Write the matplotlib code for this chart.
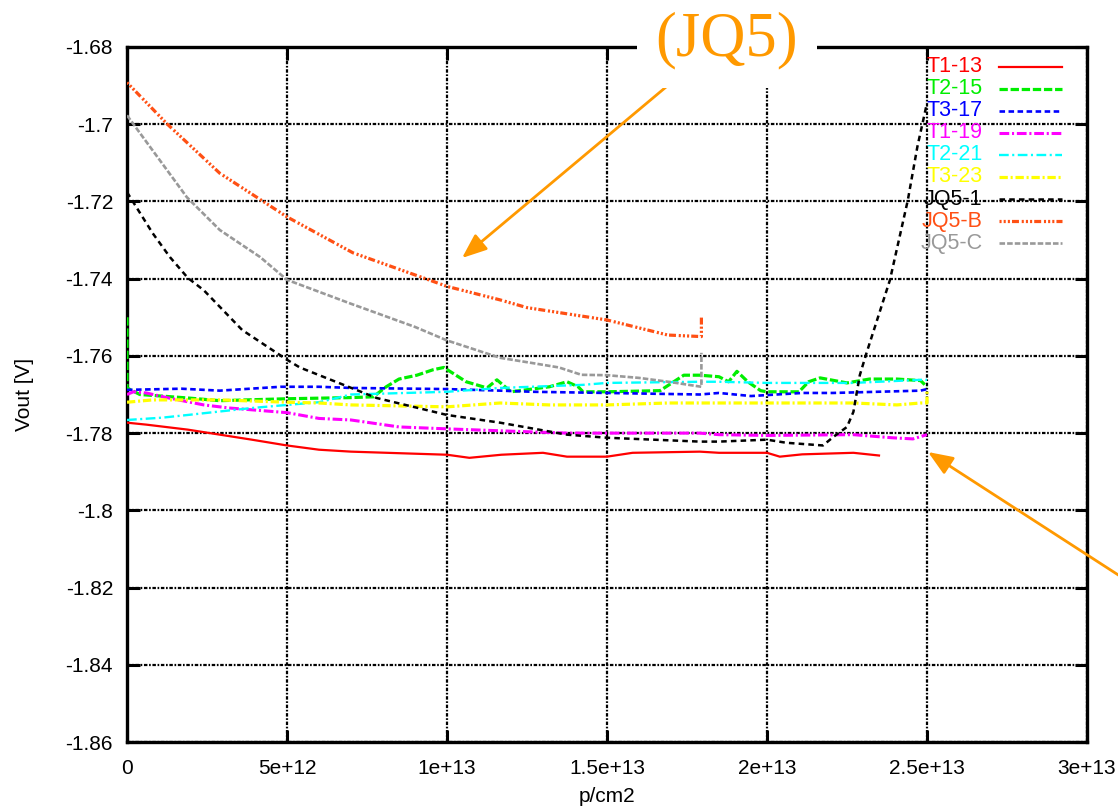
import matplotlib
matplotlib.use("Agg")
import matplotlib.pyplot as plt

plt.rcParams["font.family"] = ["Liberation Sans", "DejaVu Sans"]
plt.rcParams["lines.scale_dashes"] = False

# x in units of 1e12 p/cm2, y in V
t1_13_x = [0, 0.6, 1.9, 3.9, 5.0, 6.0, 7.0, 8.5, 10.0, 10.7, 11.7, 13.0, 13.75, 15.0, 15.8, 17.9, 18.5,
           20.0, 20.4, 21.1, 22.7, 23.5]
t1_13_y = [-1.7773, -1.7778, -1.7791, -1.7817, -1.7832, -1.7843, -1.7848, -1.7852, -1.7856, -1.7864,
           -1.7856, -1.7851, -1.7861, -1.7861, -1.7851, -1.7848, -1.7851, -1.7851, -1.7861, -1.7855,
           -1.7851, -1.7858]

t2_15_x = [0, 0, 0.4, 1.9, 2.9, 5.0, 7.0, 7.7, 8.1, 8.5, 9.06, 9.56, 9.9, 10.6, 11.25, 11.56, 12.0, 13.2,
           13.75, 14.1, 14.25, 15.0, 16.66, 17.4, 17.9, 18.5, 18.8, 19.06, 19.4, 19.8, 20.0, 21.0, 21.3,
           21.66, 22.5, 23.2, 24.06, 24.8, 25.0]
t2_15_y = [-1.7500, -1.7683, -1.7700, -1.7709, -1.7716, -1.7711, -1.7708, -1.7706, -1.7680, -1.7660,
           -1.7650, -1.7636, -1.7630, -1.7667, -1.7683, -1.7662, -1.7693, -1.7680, -1.7667, -1.7680,
           -1.7693, -1.7693, -1.7690, -1.7650, -1.7650, -1.7654, -1.7667, -1.7640, -1.7667, -1.7690,
           -1.7693, -1.7693, -1.7667, -1.7657, -1.7670, -1.7660, -1.7660, -1.7664, -1.7680]

t3_17_x = [0, 1.7, 2.9, 4.8, 6.0, 7.0, 10.0, 11.66, 12.7, 15.0, 17.9, 18.5, 19.5, 21.1, 22.06, 24.8, 25.0]
t3_17_y = [-1.7688, -1.7685, -1.7690, -1.7680, -1.7680, -1.7683, -1.7686, -1.7690, -1.7693, -1.7696,
           -1.7700, -1.7696, -1.7704, -1.7696, -1.7696, -1.7690, -1.7686]

t1_19_x = [0, 0.2, 0.6, 1.3, 2.4, 3.2, 5.0, 6.0, 7.0, 8.5, 10.0, 11.66, 13.75, 15.0, 17.9, 18.5, 20.0,
           22.7, 23.9, 24.56, 25.0]
t1_19_y = [-1.7700, -1.7693, -1.7696, -1.7709, -1.7727, -1.7735, -1.7747, -1.7762, -1.7766, -1.7784,
           -1.7789, -1.7794, -1.7800, -1.7800, -1.7800, -1.7804, -1.7806, -1.7804, -1.7812, -1.7815,
           -1.7804]

t2_21_x = [0, 1.1, 1.9, 3.9, 5.0, 6.0, 7.0, 10.0, 11.66, 14.25, 15.0, 17.9, 18.5, 20.0, 22.7, 24.8, 25.0]
t2_21_y = [-1.7766, -1.7760, -1.7753, -1.7735, -1.7727, -1.7720, -1.7700, -1.7693, -1.7683, -1.7675,
           -1.7670, -1.7667, -1.7667, -1.7670, -1.7670, -1.7662, -1.7662]

t3_23_x = [0, 0.8, 2.9, 5.0, 6.0, 7.0, 10.0, 11.66, 13.2, 15.0, 16.9, 17.9, 18.5, 20.0, 22.7, 24.06,
           24.8, 25.0, 25.0]
t3_23_y = [-1.7720, -1.7714, -1.7714, -1.7720, -1.7722, -1.7727, -1.7732, -1.7722, -1.7727, -1.7727,
           -1.7722, -1.7722, -1.7722, -1.7722, -1.7722, -1.7727, -1.7722, -1.7722, -1.7692]

jq5_1_x = [0, 0.8, 1.34, 1.9, 2.4, 3.6, 5.0, 5.4, 7.8, 10.0, 11.66, 13.75, 15.0, 17.9, 18.5, 20.0, 20.6,
           21.75, 22.07, 22.5, 22.7, 22.9, 23.1, 23.84, 24.4, 24.7, 25.0]
jq5_1_y = [-1.7176, -1.7282, -1.7344, -1.7398, -1.7430, -1.7533, -1.7610, -1.7630, -1.7709, -1.7753,
           -1.7773, -1.7804, -1.7812, -1.7822, -1.7822, -1.7817, -1.7825, -1.7832, -1.7810, -1.7784,
           -1.7745, -1.7650, -1.7595, -1.7404, -1.7197, -1.7058, -1.6945]

jq5_b_x = [0, 1.25, 2.9, 5.0, 7.06, 9.16, 10.0, 11.66, 12.5, 15.0, 16.9, 17.95, 17.95]
jq5_b_y = [-1.6892, -1.6999, -1.7127, -1.7240, -1.7333, -1.7395, -1.7420, -1.7455, -1.7475, -1.7507,
           -1.7546, -1.7550, -1.7497]

jq5_c_x = [0, 1.87, 2.9, 4.16, 5.0, 7.0, 9.0, 10.0, 11.66, 12.7, 13.5, 14.2, 15.0, 16.0, 17.0, 17.95, 17.95]
jq5_c_y = [-1.6977, -1.7189, -1.7274, -1.7344, -1.7403, -1.7465, -1.7525, -1.7560, -1.7605, -1.7619,
           -1.7630, -1.7649, -1.7650, -1.7657, -1.7668, -1.7680, -1.7592]

labels = ["T1-13", "T2-15", "T3-17", "T1-19", "T2-21", "T3-23", "JQ5-1", "JQ5-B", "JQ5-C"]
xs = [t1_13_x, t2_15_x, t3_17_x, t1_19_x, t2_21_x, t3_23_x, jq5_1_x, jq5_b_x, jq5_c_x]
ys = [t1_13_y, t2_15_y, t3_17_y, t1_19_y, t2_21_y, t3_23_y, jq5_1_y, jq5_b_y, jq5_c_y]
colors = ["#ff0000", "#00ee00", "#0000ff", "#ff00ff", "#00ffff", "#ffff00", "#000000", "#ff5014", "#999999"]
styles = ["-", (0, (6, 2)), (0, (4, 2.5)), (0, (7, 2, 1.5, 2)), (0, (7, 2.5, 1.5, 2.5)),
          (0, (6, 2, 1.5, 2)), (0, (4, 3)), (0, (1.5, 1.5, 1.5, 1.5, 1.5, 1.5, 5, 2)), (0, (4, 1.5))]
widths = [1.6, 2.3, 1.9, 2.2, 1.7, 2.3, 1.8, 2.3, 1.9]

xticks = [0, 5, 10, 15, 20, 25, 30]
xtick_labels = ["0", "5e+12", "1e+13", "1.5e+13", "2e+13", "2.5e+13", "3e+13"]
yticks = [-1.68, -1.70, -1.72, -1.74, -1.76, -1.78, -1.80, -1.82, -1.84, -1.86]
ytick_labels = ["-1.68", "-1.7", "-1.72", "-1.74", "-1.76", "-1.78", "-1.8", "-1.82", "-1.84", "-1.86"]

fig = plt.figure(figsize=(11.18, 8.11), dpi=100)
ax = fig.add_axes([127 / 1118, 1 - 742 / 811, 960 / 1118, 695 / 811])

for x, y, c, ls, lw in zip(xs, ys, colors, styles, widths):
    ax.plot([v * 1e12 for v in x], y, color=c, ls=ls, lw=lw, zorder=3)

ax.set_xlim(0, 3e13)
ax.set_ylim(-1.86, -1.68)
ax.set_xticks([v * 1e12 for v in xticks])
ax.set_xticklabels(xtick_labels)
ax.set_yticks(yticks)
ax.set_yticklabels(ytick_labels)
ax.tick_params(direction="in", length=9, width=2.2, top=True, right=True, labelsize=15, pad=10)
ax.tick_params(axis="x", pad=12)
ax.grid(True, color="black", ls=(0, (2.5, 1.2, 1.2, 1.2)), lw=1.6)
for sp in ax.spines.values():
    sp.set_linewidth(2.4)

ax.set_xlabel("p/cm2", fontsize=15)
ax.set_ylabel("Vout [V]", fontsize=15)
ax.xaxis.set_label_coords(0.5, -0.065)
ax.yaxis.set_label_coords(-0.097, 0.5)

# key (gnuplot style: text right-justified, sample to the right)
for i, (lab, c, ls, lw) in enumerate(zip(labels, colors, styles, widths)):
    yk = (742 - 67 - 22 * i) / 695
    ax.plot([0.908, 0.974], [yk, yk], transform=ax.transAxes, color=c, ls=ls, lw=lw, clip_on=False)
    ax.text(0.891, yk, lab, transform=ax.transAxes, ha="right", va="center", color=c, fontsize=15.5)

orange = "#ff9900"
fig.text(727 / 1118, 1 - 40 / 811, "(JQ5)", ha="center", va="center", color=orange, fontsize=45,
         family=["Liberation Serif", "DejaVu Serif"],
         bbox=dict(boxstyle="square,pad=0.3", fc="white", ec="none"))

arrow = dict(arrowstyle="-|>,head_length=0.75,head_width=0.3", color=orange, lw=2,
             mutation_scale=20, shrinkA=0, shrinkB=0)
ax.annotate("", xy=(462, 811 - 258), xytext=(672, 811 - 82), xycoords="figure pixels",
            textcoords="figure pixels", arrowprops=arrow, annotation_clip=False)
ax.annotate("", xy=(928, 811 - 452), xytext=(1140, 811 - 589), xycoords="figure pixels",
            textcoords="figure pixels", arrowprops=arrow, annotation_clip=False)

fig.savefig("out.png", dpi=100)
